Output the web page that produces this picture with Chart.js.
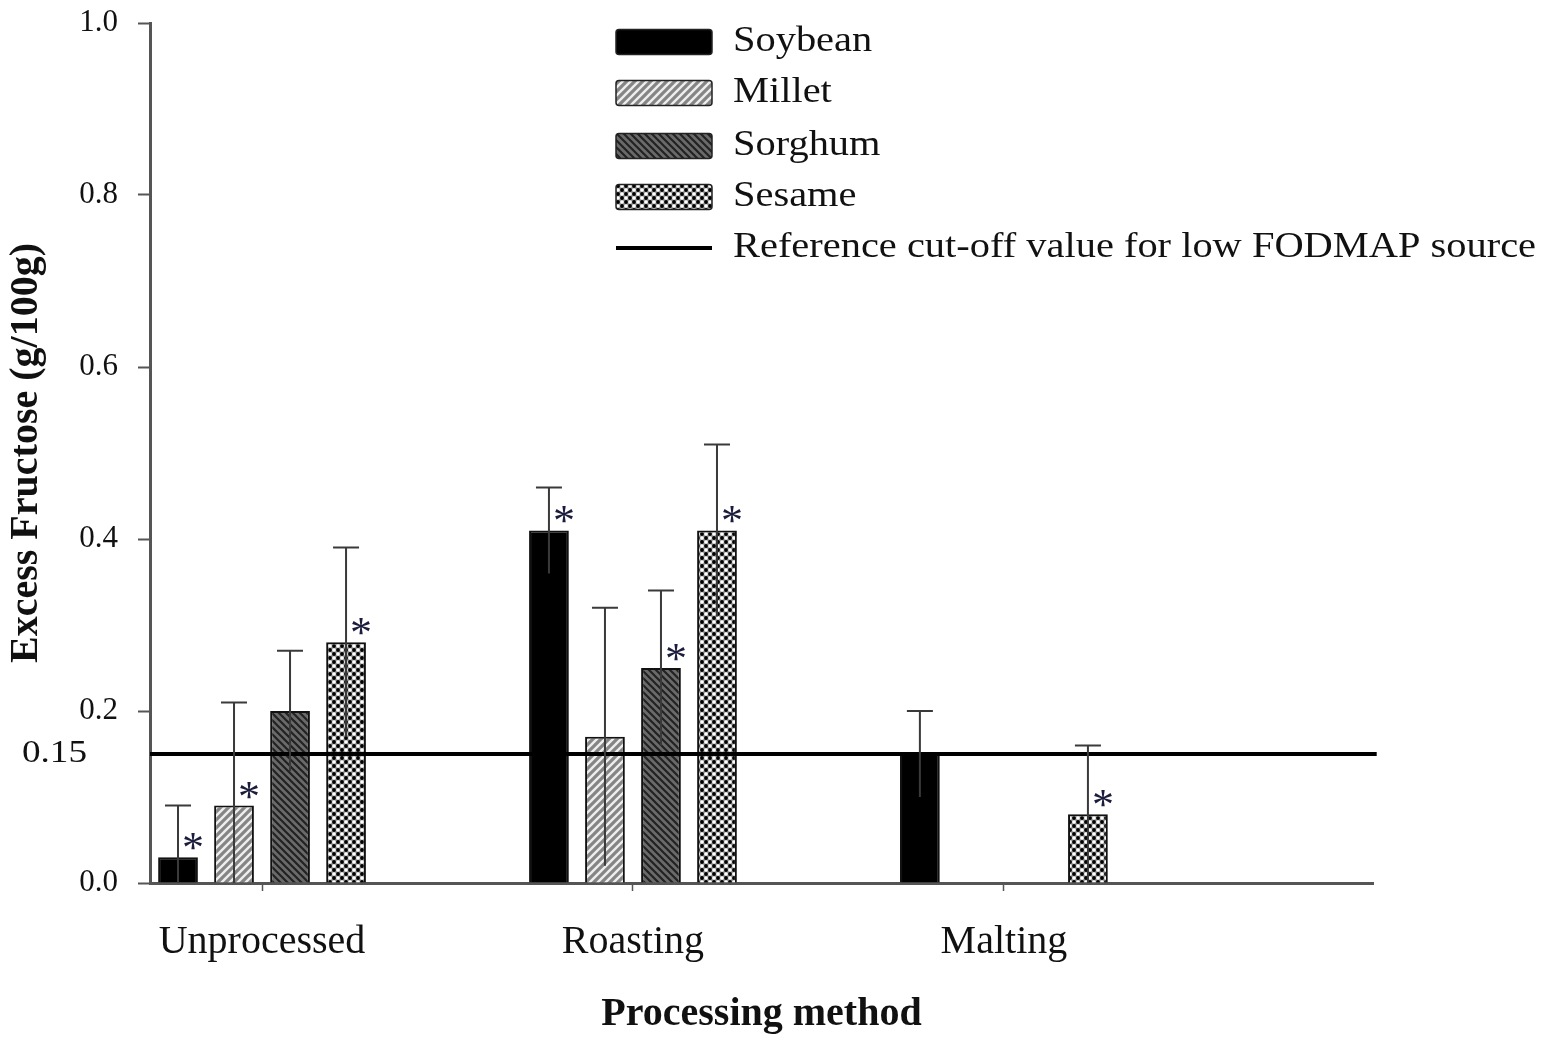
<!DOCTYPE html>
<html>
<head>
<meta charset="utf-8">
<script src="https://cdn.jsdelivr.net/npm/chart.js@4.4.1/dist/chart.umd.min.js"></script>
<style>
  html, body { margin: 0; padding: 0; background: #fff; }
</style>
</head>
<body>
<canvas id="chart" width="1547" height="1045"></canvas>
<script>
// data
const categories = ["Unprocessed", "Roasting", "Malting"];
const seriesNames = ["Soybean", "Millet", "Sorghum", "Sesame"];
const soybean = [0.03, 0.41, 0.15];
const millet = [0.09, 0.17, null];
const sorghum = [0.20, 0.25, null];
const sesame = [0.28, 0.41, 0.08];
const soybeanErr = [0.06, 0.05, 0.05];
const milletErr = [0.12, 0.15, null];
const sorghumErr = [0.07, 0.09, null];
const sesameErr = [0.11, 0.10, 0.08];
const soybeanStar = [true, true, false];
const milletStar = [true, false, false];
const sorghumStar = [false, true, false];
const sesameStar = [true, true, true];
const cutoff = 0.15;
const cutoffLabel = "Reference cut-off value for low FODMAP source";
const yTicks = [0, 0.2, 0.4, 0.6, 0.8, 1.0];

const FONT = "'Liberation Serif', 'Times New Roman', serif";
const canvas = document.getElementById("chart");
const ctx = canvas.getContext("2d");

// hatch fills
function makePattern(kind) {
    const c = document.createElement("canvas");
    const g = c.getContext("2d");
    if (kind === "millet") {
        c.width = 8; c.height = 8;
        g.fillStyle = "#858585"; g.fillRect(0, 0, 8, 8);
        g.strokeStyle = "#eeeeee"; g.lineWidth = 2.4;
        g.beginPath();
        g.moveTo(-1, 9); g.lineTo(9, -1);
        g.moveTo(-1, 1); g.lineTo(1, -1);
        g.moveTo(7, 9); g.lineTo(9, 7);
        g.stroke();
    } else if (kind === "sorghum") {
        c.width = 7; c.height = 7;
        g.fillStyle = "#6a6a6a"; g.fillRect(0, 0, 7, 7);
        g.strokeStyle = "#222"; g.lineWidth = 2.2;
        g.beginPath();
        g.moveTo(-1, -1); g.lineTo(8, 8);
        g.moveTo(6, -1); g.lineTo(8, 1);
        g.moveTo(-1, 6); g.lineTo(1, 8);
        g.stroke();
    } else {
        c.width = 8; c.height = 8;
        g.fillStyle = "#9a9a9a"; g.fillRect(0, 0, 8, 8);
        g.fillStyle = "#000";
        g.beginPath(); g.arc(2, 2, 1.9, 0, Math.PI * 2); g.fill();
        g.beginPath(); g.arc(6, 6, 1.9, 0, Math.PI * 2); g.fill();
        g.fillStyle = "#fff";
        g.beginPath(); g.arc(6, 2, 1.8, 0, Math.PI * 2); g.fill();
        g.beginPath(); g.arc(2, 6, 1.8, 0, Math.PI * 2); g.fill();
    }
    return ctx.createPattern(c, "repeat");
}

const fills = ["#000000", makePattern("millet"), makePattern("sorghum"), makePattern("sesame")];
const seriesValues = [soybean, millet, sorghum, sesame];
const seriesErr = [soybeanErr, milletErr, sorghumErr, sesameErr];
const seriesStar = [soybeanStar, milletStar, sorghumStar, sesameStar];

const barSets = seriesNames.map((name, k) => ({
    type: "bar",
    label: name,
    data: seriesValues[k].map((v, i) => ({ x: i, y: v })),
    backgroundColor: fills[k],
    borderColor: "#111",
    borderWidth: 2,
    barPercentage: 0.71,
    categoryPercentage: 0.604,
    order: 2
}));

// the cut-off line, drawn over the bars
const refLine = {
    type: "line",
    label: cutoffLabel,
    data: [{ x: -0.302, y: cutoff }, { x: 3.005, y: cutoff }],
    borderColor: "#000",
    borderWidth: 4,
    pointRadius: 0,
    clip: false,
    order: 1
};

// error bars, asterisks, 0.15 label and legend
const extras = {
    id: "extras",
    afterDatasetsDraw(chart) {
        const c = chart.ctx;
        const y = chart.scales.y;
        c.save();
        seriesValues.forEach((vals, k) => {
            const meta = chart.getDatasetMeta(k);
            meta.data.forEach((bar, i) => {
                if (vals[i] == null) return;
                const top = y.getPixelForValue(vals[i] + seriesErr[k][i]);
                const bot = y.getPixelForValue(Math.max(0, vals[i] - seriesErr[k][i]));
                c.strokeStyle = "#3a3a3a";
                c.lineWidth = 2;
                c.beginPath();
                c.moveTo(bar.x, bot); c.lineTo(bar.x, top);
                c.moveTo(bar.x - 13, top); c.lineTo(bar.x + 13, top);
                c.stroke();
                if (seriesStar[k][i]) {
                    c.fillStyle = "#1c1c3c";
                    c.font = "44px " + FONT;
                    c.textAlign = "center";
                    c.textBaseline = "alphabetic";
                    c.fillText("*", bar.x + 15, bar.y + 5);
                }
            });
        });
        c.restore();
    },
    afterDraw(chart) {
        const c = chart.ctx;
        const y = chart.scales.y;
        c.save();
        c.fillStyle = "#111";
        c.font = "31px " + FONT;
        c.textAlign = "right";
        c.textBaseline = "middle";
        c.save();
        c.translate(87, y.getPixelForValue(cutoff));
        c.scale(1.2, 1);
        c.fillText("0.15", 0, 0);
        c.restore();

        // legend
        const boxX = 616, boxW = 96, boxH = 25, textX = 733;
        const rows = [42, 93, 146, 197, 248];
        for (let k = 0; k < seriesNames.length; k++) {
            c.fillStyle = fills[k];
            c.strokeStyle = "#222";
            c.lineWidth = 1.5;
            c.beginPath();
            c.roundRect(boxX, rows[k] - boxH / 2, boxW, boxH, 3);
            c.fill();
            c.stroke();
        }
        c.strokeStyle = "#000";
        c.lineWidth = 4;
        c.beginPath();
        c.moveTo(boxX, rows[4]); c.lineTo(boxX + boxW, rows[4]);
        c.stroke();

        const labels = seriesNames.concat([cutoffLabel]);
        c.fillStyle = "#111";
        c.font = "35px " + FONT;
        c.textAlign = "left";
        c.textBaseline = "middle";
        labels.forEach((t, k) => {
            c.save();
            c.translate(textX, rows[k]);
            c.scale(1.155, 1);
            c.fillText(t, 0, 0);
            c.restore();
        });
        c.restore();
    }
};

new Chart(ctx, {
    data: { datasets: barSets.concat([refLine]) },
    options: {
        responsive: false,
        animation: false,
        devicePixelRatio: 1,
        layout: { padding: { left: 0, right: 174, top: 23, bottom: 0 } },
        plugins: { legend: { display: false }, tooltip: { enabled: false } },
        scales: {
            x: {
                type: "linear",
                offset: false,
                min: -0.302,
                max: 2.995,
                afterBuildTicks: scale => { scale.ticks = categories.map((c, i) => ({ value: i })); },
                afterFit: scale => { scale.height = 162; },
                ticks: {
                    callback: v => categories[v],
                    color: "#111",
                    font: { family: FONT, size: 40 },
                    padding: 27,
                    maxRotation: 0
                },
                grid: { offset: false, drawOnChartArea: false, tickLength: 8, tickWidth: 1.5, tickColor: "#555" },
                border: { color: "#555", width: 3 },
                title: {
                    display: true,
                    text: "Processing method",
                    color: "#111",
                    font: { family: FONT, size: 40, weight: "bold" },
                    padding: { top: 0, bottom: 6 }
                }
            },
            y: {
                min: 0,
                max: 1,
                afterBuildTicks: scale => { scale.ticks = yTicks.map(v => ({ value: v })); },
                afterFit: scale => { scale.width = 150; scale.paddingTop = 0; scale.paddingBottom = 0; },
                ticks: {
                    callback: v => v.toFixed(1),
                    color: "#111",
                    font: { family: FONT, size: 31 },
                    padding: 20
                },
                grid: { drawOnChartArea: false, tickLength: 12, tickWidth: 2, tickColor: "#555" },
                border: { color: "#555", width: 3 },
                title: {
                    display: true,
                    text: "Excess Fructose (g/100g)",
                    color: "#111",
                    font: { family: FONT, size: 40, weight: "bold" },
                    padding: { top: 3, bottom: 0 }
                }
            }
        }
    },
    plugins: [extras]
});
</script>
</body>
</html>
